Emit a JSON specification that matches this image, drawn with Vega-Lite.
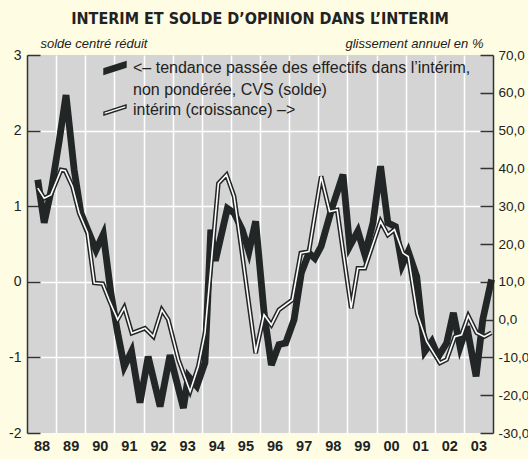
{
  "$schema": "https://vega.github.io/schema/vega-lite/v6.json",
  "width": 466,
  "height": 378,
  "autosize": {"type": "none"},
  "padding": {"left": 27, "top": 55, "right": 35, "bottom": 26},
  "background": "#fefde3",
  "config": {
    "view": {"fill": "#d4d4d4", "stroke": null},
    "font": "Liberation Sans"
  },
  "title": {
    "text": "INTERIM ET SOLDE D’OPINION DANS L’INTERIM",
    "font": "DejaVu Sans Condensed, Liberation Sans",
    "fontSize": 16,
    "fontWeight": "bold",
    "color": "#222222",
    "anchor": "middle",
    "frame": "group",
    "offset": 10
  },
  "data": {
    "values": [
      {"t": 1988.37, "series": "solde", "v": 1.35},
      {"t": 1988.59, "series": "solde", "v": 0.78},
      {"t": 1988.85, "series": "solde", "v": 1.25},
      {"t": 1989.10, "series": "solde", "v": 1.85},
      {"t": 1989.34, "series": "solde", "v": 2.47},
      {"t": 1989.62, "series": "solde", "v": 1.48},
      {"t": 1989.85, "series": "solde", "v": 0.91},
      {"t": 1990.08, "series": "solde", "v": 0.69},
      {"t": 1990.37, "series": "solde", "v": 0.42},
      {"t": 1990.62, "series": "solde", "v": 0.63},
      {"t": 1990.88, "series": "solde", "v": -0.15},
      {"t": 1991.11, "series": "solde", "v": -0.67},
      {"t": 1991.34, "series": "solde", "v": -1.12},
      {"t": 1991.59, "series": "solde", "v": -0.92},
      {"t": 1991.88, "series": "solde", "v": -1.60},
      {"t": 1992.16, "series": "solde", "v": -0.99},
      {"t": 1992.57, "series": "solde", "v": -1.65},
      {"t": 1992.91, "series": "solde", "v": -0.97},
      {"t": 1993.37, "series": "solde", "v": -1.67},
      {"t": 1993.54, "series": "solde", "v": -1.25},
      {"t": 1993.83, "series": "solde", "v": -1.38},
      {"t": 1994.11, "series": "solde", "v": -1.07},
      {"t": 1994.31, "series": "solde", "v": 0.69},
      {"t": 1994.47, "series": "solde", "v": 0.28},
      {"t": 1994.88, "series": "solde", "v": 0.97},
      {"t": 1995.11, "series": "solde", "v": 0.91},
      {"t": 1995.39, "series": "solde", "v": 0.69},
      {"t": 1995.62, "series": "solde", "v": 0.40},
      {"t": 1995.85, "series": "solde", "v": 0.80},
      {"t": 1996.14, "series": "solde", "v": -0.41},
      {"t": 1996.39, "series": "solde", "v": -1.10},
      {"t": 1996.65, "series": "solde", "v": -0.83},
      {"t": 1996.88, "series": "solde", "v": -0.81},
      {"t": 1997.17, "series": "solde", "v": -0.50},
      {"t": 1997.42, "series": "solde", "v": 0.12},
      {"t": 1997.68, "series": "solde", "v": 0.38},
      {"t": 1997.88, "series": "solde", "v": 0.31},
      {"t": 1998.10, "series": "solde", "v": 0.47},
      {"t": 1998.45, "series": "solde", "v": 0.95},
      {"t": 1998.85, "series": "solde", "v": 1.42},
      {"t": 1999.08, "series": "solde", "v": 0.47},
      {"t": 1999.36, "series": "solde", "v": 0.67},
      {"t": 1999.60, "series": "solde", "v": 0.36},
      {"t": 1999.88, "series": "solde", "v": 0.78},
      {"t": 2000.14, "series": "solde", "v": 1.53},
      {"t": 2000.39, "series": "solde", "v": 0.78},
      {"t": 2000.65, "series": "solde", "v": 0.73},
      {"t": 2000.88, "series": "solde", "v": 0.22},
      {"t": 2001.09, "series": "solde", "v": 0.40},
      {"t": 2001.38, "series": "solde", "v": 0.07},
      {"t": 2001.66, "series": "solde", "v": -0.92},
      {"t": 2001.90, "series": "solde", "v": -0.79},
      {"t": 2002.12, "series": "solde", "v": -0.99},
      {"t": 2002.41, "series": "solde", "v": -0.81},
      {"t": 2002.64, "series": "solde", "v": -0.41},
      {"t": 2002.87, "series": "solde", "v": -0.86},
      {"t": 2003.10, "series": "solde", "v": -0.59},
      {"t": 2003.42, "series": "solde", "v": -1.25},
      {"t": 2003.65, "series": "solde", "v": -0.50},
      {"t": 2003.95, "series": "solde", "v": 0.03},
      {"t": 1988.37, "series": "interim", "v": 34.8},
      {"t": 1988.59, "series": "interim", "v": 32.1},
      {"t": 1988.82, "series": "interim", "v": 33.0},
      {"t": 1989.17, "series": "interim", "v": 39.6},
      {"t": 1989.31, "series": "interim", "v": 39.4},
      {"t": 1989.56, "series": "interim", "v": 35.2},
      {"t": 1989.79, "series": "interim", "v": 28.2},
      {"t": 1990.08, "series": "interim", "v": 22.9},
      {"t": 1990.31, "series": "interim", "v": 9.7},
      {"t": 1990.60, "series": "interim", "v": 9.5},
      {"t": 1990.82, "series": "interim", "v": 5.2},
      {"t": 1991.11, "series": "interim", "v": 0.0},
      {"t": 1991.34, "series": "interim", "v": 3.2},
      {"t": 1991.60, "series": "interim", "v": -3.6},
      {"t": 1992.05, "series": "interim", "v": -2.3},
      {"t": 1992.34, "series": "interim", "v": -4.5},
      {"t": 1992.63, "series": "interim", "v": 2.6},
      {"t": 1992.85, "series": "interim", "v": 0.0},
      {"t": 1993.20, "series": "interim", "v": -10.6},
      {"t": 1993.60, "series": "interim", "v": -19.0},
      {"t": 1993.88, "series": "interim", "v": -12.4},
      {"t": 1994.11, "series": "interim", "v": -3.6},
      {"t": 1994.57, "series": "interim", "v": 36.0},
      {"t": 1994.85, "series": "interim", "v": 38.3},
      {"t": 1995.11, "series": "interim", "v": 32.6},
      {"t": 1995.34, "series": "interim", "v": 20.0},
      {"t": 1995.85, "series": "interim", "v": -8.9},
      {"t": 1996.14, "series": "interim", "v": 1.3},
      {"t": 1996.39, "series": "interim", "v": -1.4},
      {"t": 1996.65, "series": "interim", "v": 2.6},
      {"t": 1997.11, "series": "interim", "v": 5.2},
      {"t": 1997.40, "series": "interim", "v": 17.6},
      {"t": 1997.68, "series": "interim", "v": 18.0},
      {"t": 1998.10, "series": "interim", "v": 37.9},
      {"t": 1998.39, "series": "interim", "v": 28.6},
      {"t": 1998.65, "series": "interim", "v": 29.0},
      {"t": 1999.13, "series": "interim", "v": 3.0},
      {"t": 1999.36, "series": "interim", "v": 13.6},
      {"t": 1999.60, "series": "interim", "v": 13.6},
      {"t": 2000.14, "series": "interim", "v": 26.0},
      {"t": 2000.39, "series": "interim", "v": 22.4},
      {"t": 2000.62, "series": "interim", "v": 23.8},
      {"t": 2000.91, "series": "interim", "v": 17.6},
      {"t": 2001.09, "series": "interim", "v": 16.7},
      {"t": 2001.40, "series": "interim", "v": 1.5},
      {"t": 2001.72, "series": "interim", "v": -5.8},
      {"t": 2002.18, "series": "interim", "v": -11.5},
      {"t": 2002.41, "series": "interim", "v": -10.6},
      {"t": 2002.69, "series": "interim", "v": -4.5},
      {"t": 2002.92, "series": "interim", "v": -4.0},
      {"t": 2003.15, "series": "interim", "v": 1.0},
      {"t": 2003.44, "series": "interim", "v": -3.5},
      {"t": 2003.70, "series": "interim", "v": -4.5},
      {"t": 2003.95, "series": "interim", "v": -3.5}
    ]
  },
  "encoding": {
    "x": {
      "field": "t",
      "type": "quantitative",
      "scale": {"domain": [1988, 2004], "nice": false, "zero": false},
      "axis": {
        "values": [1988, 1989, 1990, 1991, 1992, 1993, 1994, 1995, 1996, 1997, 1998, 1999, 2000, 2001, 2002, 2003, 2004],
        "title": null,
        "grid": true,
        "gridColor": {"condition": {"test": "datum.value <= 1988 || datum.value >= 2004", "value": "transparent"}, "value": "#ffffff"},
        "gridWidth": 1.5,
        "domain": false,
        "ticks": false,
        "labelOffset": 14.56,
        "labelFlush": false,
        "labelOverlap": false,
        "labelBound": false,
        "labelExpr": "datum.value >= 2004 ? '' : substring(toString(datum.value), 2)",
        "labelFont": "Liberation Sans",
        "labelFontWeight": "bold",
        "labelFontSize": 14.5,
        "labelColor": "#222222",
        "labelPadding": 6
      }
    }
  },
  "layer": [
    {
      "transform": [{"filter": "datum.series == 'solde'"}],
      "mark": {"type": "line", "stroke": "#232626", "strokeWidth": 6.8, "strokeJoin": "miter"},
      "encoding": {
        "y": {
          "field": "v",
          "type": "quantitative",
          "scale": {"domain": [-2, 3], "nice": false, "zero": false},
          "axis": {
            "orient": "left",
            "values": [-2, -1, 0, 1, 2, 3],
            "grid": true,
            "gridColor": {"condition": {"test": "datum.value <= -2 || datum.value >= 3", "value": "transparent"}, "value": "#ffffff"},
            "gridWidth": 1.5,
            "domainColor": "#333333",
            "domainWidth": 1.5,
            "tickColor": "#333333",
            "tickWidth": 1.5,
            "tickSize": -13,
            "labelPadding": 19,
            "labelFont": "Liberation Sans",
            "labelFontSize": 14,
            "labelColor": "#222222",
            "labelOverlap": false,
            "labelExpr": "(datum.value < 0 ? '-' : '') + abs(datum.value)",
            "title": "solde centré réduit",
            "titleAngle": 0,
            "titleAlign": "left",
            "titleBaseline": "alphabetic",
            "titleX": 13,
            "titleY": -8,
            "titleFont": "Liberation Sans",
            "titleFontStyle": "italic",
            "titleFontWeight": "normal",
            "titleFontSize": 13,
            "titleColor": "#222222"
          }
        }
      }
    },
    {
      "transform": [{"filter": "datum.series == 'interim'"}],
      "encoding": {
        "y": {
          "field": "v",
          "type": "quantitative",
          "scale": {"domain": [-30, 70], "nice": false, "zero": false},
          "axis": {
            "orient": "right",
            "values": [-30, -20, -10, 0, 10, 20, 30, 40, 50, 60, 70],
            "grid": false,
            "domainColor": "#333333",
            "domainWidth": 1.5,
            "tickColor": "#333333",
            "tickWidth": 1.5,
            "tickSize": -13,
            "labelPadding": 18,
            "labelFont": "Liberation Sans",
            "labelFontSize": 13.5,
            "labelColor": "#222222",
            "labelOverlap": false,
            "labelExpr": "(datum.value < 0 ? '-' : '') + replace(format(abs(datum.value), '.1f'), '.', ',')",
            "title": "glissement annuel en %",
            "titleAngle": 0,
            "titleAlign": "right",
            "titleBaseline": "alphabetic",
            "titleX": -10,
            "titleY": -8,
            "titleFont": "Liberation Sans",
            "titleFontStyle": "italic",
            "titleFontWeight": "normal",
            "titleFontSize": 13,
            "titleColor": "#222222"
          }
        }
      },
      "layer": [
        {"mark": {"type": "line", "stroke": "#232626", "strokeWidth": 4.6, "strokeJoin": "miter"}},
        {"mark": {"type": "line", "stroke": "#ffffff", "strokeWidth": 1.6, "strokeJoin": "miter"}},
        {
          "mark": {"type": "point", "opacity": 0, "filled": true, "fill": "#ffffff", "strokeWidth": 1.4},
          "encoding": {
            "shape": {
              "field": "series",
              "type": "nominal",
              "scale": {
                "domain": ["solde", "suite", "interim"],
                "range": [
                  "M-1,0.07L1,-0.57L1,-0.07L-1,0.57Z M-1,0.13L1,-0.51 M-1,0.19L1,-0.45 M-1,0.26L1,-0.38 M-1,0.32L1,-0.32 M-1,0.38L1,-0.26 M-1,0.45L1,-0.19 M-1,0.51L1,-0.13",
                  "M0,0",
                  "M-1,0.19L1,-0.45L1,-0.19L-1,0.45Z"
                ]
              },
              "legend": {
                "orient": "none",
                "legendX": 76,
                "legendY": 1,
                "title": null,
                "padding": 0,
                "rowPadding": 0,
                "symbolSize": 484,
                "symbolOpacity": 1,
                "symbolStrokeWidth": 1.4,
                "labelOffset": 6,
                "labelFont": "Liberation Sans",
                "labelFontSize": 16,
                "labelColor": "#222222",
                "labelLimit": 500,
                "labelExpr": "datum.value == 'solde' ? '<– tendance passée des effectifs dans l’intérim,' : (datum.value == 'suite' ? 'non pondérée, CVS (solde)' : 'intérim (croissance) –>')"
              }
            },
            "stroke": {
              "field": "series",
              "type": "nominal",
              "scale": {"domain": ["solde", "suite", "interim"], "range": ["#232626", "transparent", "#232626"]}
            }
          }
        }
      ]
    }
  ],
  "resolve": {"scale": {"y": "independent"}}
}
